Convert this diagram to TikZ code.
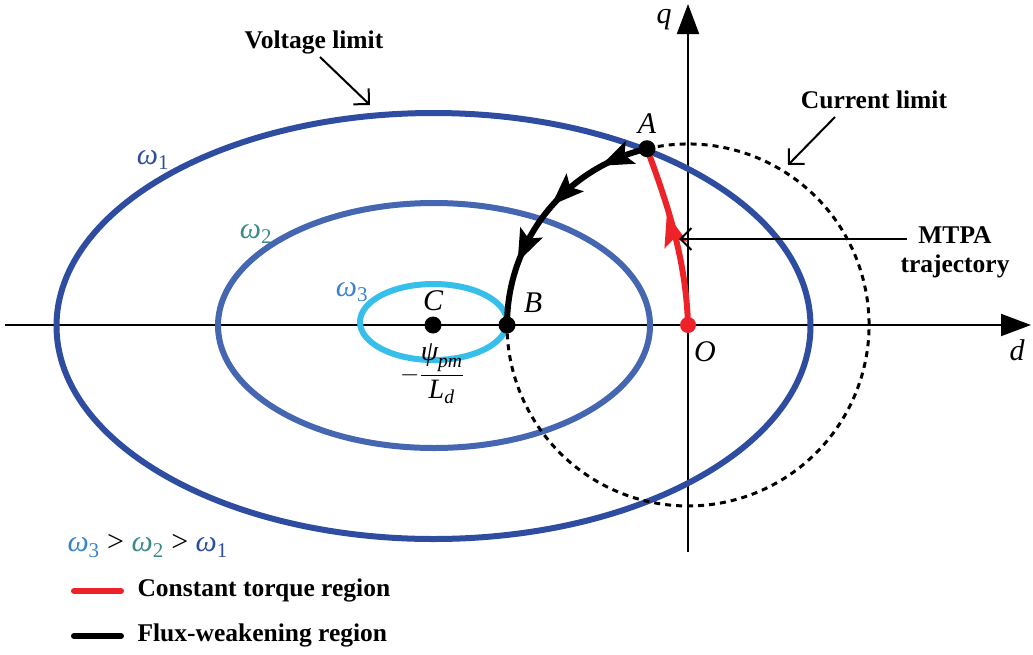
\documentclass[tikz,border=0pt]{standalone}
\usepackage{amsmath}
\usepackage{fontspec}
\setmainfont{Liberation Serif}
\usetikzlibrary{arrows.meta}
\definecolor{wone}{HTML}{2E4DA0}
\definecolor{wtwo}{HTML}{4566B0}
\definecolor{wthree}{HTML}{35BFEA}
\definecolor{ltwo}{HTML}{3C8A8A}
\definecolor{lthree}{HTML}{3A82CC}
\definecolor{myred}{HTML}{EE2229}
\begin{document}
\begin{tikzpicture}[x=1pt,y=1pt,
  axis/.style={line width=2pt,-{Triangle[length=30pt,width=22pt]}},
  ellone/.style={draw=wone,line width=6pt},
  elltwo/.style={draw=wtwo,line width=6pt},
  ellthree/.style={draw=wthree,line width=6pt},
  curlim/.style={line width=3pt,dash pattern=on 6pt off 5pt},
  flux/.style={line width=6pt},
  torque/.style={draw=myred,line width=6pt},
  dot/.style={circle,fill=black,inner sep=0pt,minimum size=17pt},
  reddot/.style={circle,fill=myred,inner sep=0pt,minimum size=16pt},
  pointer/.style={line width=2pt,-{Straight Barb[length=11pt,width=22pt]}},
  bold/.style={font=\fontsize{25.5}{29}\selectfont\bfseries},
  ital/.style={font=\fontsize{30}{34}\selectfont\itshape},
  omlab/.style={font=\fontsize{30}{34}\selectfont\itshape},
  legline/.style={line width=6pt,line cap=round}
]
\useasboundingbox (0,0) rectangle (1033,-654);

% axes
\coordinate (dstart) at (5,-325);
\coordinate (dend) at (1031,-325);
\coordinate (qstart) at (688,-552);
\coordinate (qend) at (688,-4);
\draw[axis] (dstart) -- (dend);
\draw[axis] (qstart) -- (qend);
\node[ital] (dlab) at (1017,-350) {d};
\node[ital] (qlab) at (664,-20) {q};

% voltage limit ellipses
\draw[ellone] (433.5,-326) ellipse [x radius=377pt, y radius=213pt];
\draw[elltwo] (434,-325.5) ellipse [x radius=216pt, y radius=122.5pt];
\draw[ellthree] (433.5,-322) ellipse [x radius=73.5pt, y radius=38pt];

% current limit circle (dashed part)
\coordinate (Ap) at (647,-148.7);
\coordinate (Oc) at (688,-325);
\draw[curlim] (Ap) arc[start angle=103.1, end angle=-180, radius=181pt];

% flux-weakening trajectory
\draw[flux] (Ap) arc[start angle=103.1, end angle=180, radius=181pt];
\foreach \ang in {114,134,155}{
  \fill[shift={(Oc)},rotate=\ang] (181,15) -- (193.5,-18) -- (181,-11) -- (168.5,-18) -- cycle;
}

% MTPA / constant torque trajectory
\draw[torque] (Oc) .. controls (686,-255) and (664,-195) .. (Ap);
\fill[myred,shift={(671,-228)},rotate=106] (15,0) -- (-18,12) -- (-11,0) -- (-18,-12) -- cycle;

% points
\node[dot] (A) at (Ap) {};
\node[dot] (B) at (507,-325) {};
\node[dot] (C) at (433,-325) {};
\node[reddot] (O) at (Oc) {};
\node[ital] (Alab) at (647,-124) {A};
\node[ital] (Blab) at (533,-303) {B};
\node[ital] (Clab) at (433,-301) {C};
\node[ital] (Olab) at (705,-352) {O};

% fraction
\node[font=\fontsize{28}{32}\selectfont] (frac) at (432,-374)
  {$-\dfrac{\text{\itshape ψ}_{\text{\itshape pm}}}{\text{\itshape L}_{\text{\itshape d}}}$};

% omega labels
\node[omlab,text=wone] (w1) at (153,-160) {ω\textsubscript{\upshape 1}};
\node[omlab,text=ltwo] (w2) at (256,-234) {ω\textsubscript{\upshape 2}};
\node[omlab,text=lthree] (w3) at (352,-292) {ω\textsubscript{\upshape 3}};

% annotations
\node[bold] (vlim) at (314,-42) {Voltage limit};
\coordinate (vtip) at (370,-105);
\draw[pointer] (320,-57) -- (vtip);
\node[bold] (clim) at (874,-100) {Current limit};
\coordinate (ctip) at (788,-165);
\draw[pointer] (835,-117) -- (ctip);
\node[bold,align=center] (mtpa) at (955,-252) {MTPA\\trajectory};
\coordinate (mstart) at (907,-239);
\coordinate (mtip) at (679,-239);
\draw[pointer] (mstart) -- (mtip);

% legend
\node[font=\fontsize{30}{34}\selectfont\itshape,anchor=west] (order) at (64,-546)
  {\textcolor{lthree}{ω\textsubscript{\upshape 3}} \upshape\textgreater{} \textcolor{ltwo}{\itshape ω\textsubscript{\upshape 2}} \textgreater{} \textcolor{wone}{\itshape ω\textsubscript{\upshape 1}}};
\coordinate (r1) at (74,-591);
\coordinate (r2) at (121,-591);
\draw[legline,myred] (r1) -- (r2);
\node[bold,anchor=west] (ctr) at (134,-590) {Constant torque region};
\coordinate (k1) at (74,-636);
\coordinate (k2) at (121,-636);
\draw[legline,black] (k1) -- (k2);
\node[bold,anchor=west] (fwr) at (134,-635) {Flux-weakening region};
\end{tikzpicture}
\end{document}
